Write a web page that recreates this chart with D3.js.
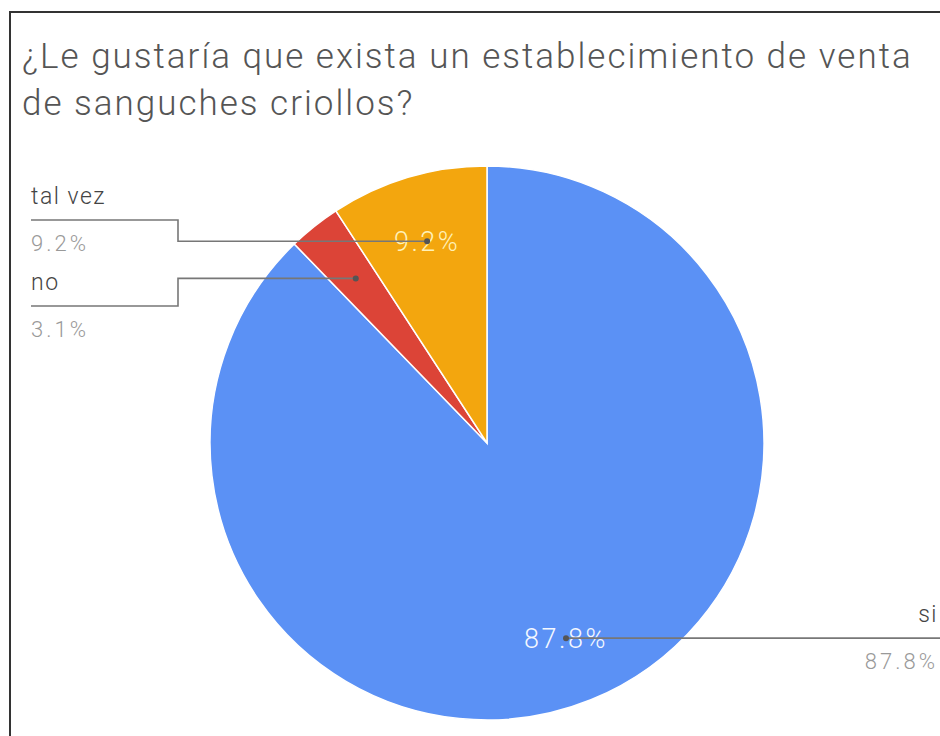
<!DOCTYPE html>
<html>
<head>
<meta charset="utf-8">
<script src="https://cdn.jsdelivr.net/npm/d3@7"></script>
<style>
  body { margin: 0; background: #fff; }
  svg { display: block; font-family: Roboto, Arial, sans-serif; }
</style>
</head>
<body>
<div id="chart"></div>
<script>
// respuestas de la encuesta
let categories = ["si", "no", "tal vez"];
let counts = [86, 3, 9];
let colors = ["#5b91f5", "#dc4437", "#f3a60e"];
let title = ["¿Le gustaría que exista un establecimiento de venta", "de sanguches criollos?"];

let width = 940,
    height = 736,
    cx = 487,
    cy = 443,
    radius = 277;

let total = d3.sum(counts);
let fmt = v => (v / total * 100).toFixed(1) + "%";

let data = categories.map((c, i) => ({name: c, value: counts[i]}));

let color = d3.scaleOrdinal().domain(categories).range(colors);

let pie = d3.pie()
    .sort(null)
    .value(d => d.value)(data);

let arc = d3.arc()
    .outerRadius(radius)
    .innerRadius(0);

let labelArc = d3.arc()
    .outerRadius(radius * 0.76 * 2)
    .innerRadius(0);

let svg = d3.select("#chart")
    .append("svg")
    .attr("width", width)
    .attr("height", height);

// marco
svg.append("path")
    .attr("d", "M10," + height + "V12H" + width)
    .attr("fill", "none")
    .attr("stroke", "#333")
    .attr("stroke-width", 2);

svg.selectAll(".title")
    .data(title)
    .enter().append("text")
    .attr("class", "title")
    .attr("x", 22)
    .attr("y", (d, i) => 68 + i * 47)
    .attr("font-size", 35)
    .attr("font-weight", 300)
    .attr("letter-spacing", 2)
    .attr("fill", "#555")
    .text(d => d);

let g = svg.append("g")
    .attr("transform", "translate(" + cx + "," + cy + ")");

g.selectAll("path")
    .data(pie)
    .enter().append("path")
    .attr("d", arc)
    .attr("fill", d => color(d.data.name))
    .attr("stroke", "#fff")
    .attr("stroke-width", 1.5);

// porcentajes dentro (solo si la porción es grande)
g.selectAll(".pct")
    .data(pie.filter(d => d.endAngle - d.startAngle > 0.3))
    .enter().append("text")
    .attr("class", "pct")
    .attr("transform", d => "translate(" + labelArc.centroid(d) + ")")
    .attr("text-anchor", "middle")
    .attr("dy", "0.35em")
    .attr("font-size", 27)
    .attr("font-weight", 300)
    .attr("letter-spacing", 2.5)
    .attr("fill", d => d.data.name == "tal vez" ? "#fff1b8" : "#f4f8ff")
    .text(d => fmt(d.data.value));

// etiquetas externas
let place = {
    "si": {side: "right", lineY: null},
    "no": {side: "left", lineY: 306},
    "tal vez": {side: "left", lineY: 220}
};

pie.forEach(d => {
    let p = labelArc.centroid(d);
    let px = cx + p[0], py = cy + p[1];
    let pl = place[d.data.name];
    let path, tx, anchor, ly;
    if (pl.side == "left") {
        ly = pl.lineY;
        path = "M31," + ly + "H178V" + py + "H" + px;
        tx = 31; anchor = "start";
    } else {
        ly = py;
        path = "M" + px + "," + py + "H" + width;
        tx = 938; anchor = "end";
    }
    svg.append("path")
        .attr("d", path)
        .attr("fill", "none")
        .attr("stroke", "#777")
        .attr("stroke-width", 1.6);
    svg.append("circle")
        .attr("cx", px)
        .attr("cy", py)
        .attr("r", 3)
        .attr("fill", "#555");
    svg.append("text")
        .attr("x", tx)
        .attr("y", ly - 16)
        .attr("text-anchor", anchor)
        .attr("font-size", 23)
        .attr("font-weight", 300)
        .attr("letter-spacing", 1.5)
        .attr("fill", "#444")
        .text(d.data.name);
    svg.append("text")
        .attr("x", tx)
        .attr("y", ly + 31)
        .attr("text-anchor", anchor)
        .attr("font-size", 22)
        .attr("font-weight", 300)
        .attr("letter-spacing", 3)
        .attr("fill", "#999")
        .text(fmt(d.data.value));
});
</script>
</body>
</html>
